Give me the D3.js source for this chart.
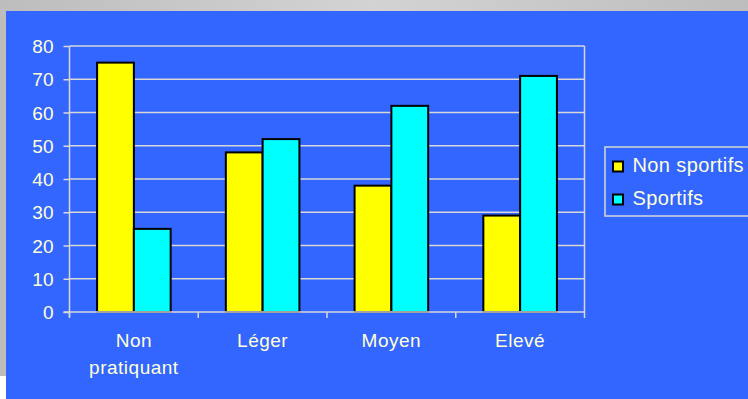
<!DOCTYPE html>
<html>
<head>
<meta charset="utf-8">
<script src="https://cdn.jsdelivr.net/npm/d3@7"></script>
<style>
  html, body { margin: 0; padding: 0; background: #fff; }
  svg { display: block; }
  text { font-family: 'Liberation Sans', Arial, sans-serif; fill: #ffffd8; }
</style>
</head>
<body>
<div class="canvas"></div>
<script>
const categories = [['Non', 'pratiquant'], ['Léger'], ['Moyen'], ['Elevé']];
const seriesNames = ['Non sportifs', 'Sportifs'];
const nonSportifs = [75, 48, 38, 29];
const sportifs = [25, 52, 62, 71];
const yTicks = [0, 10, 20, 30, 40, 50, 60, 70, 80];

const width = 748;
const height = 399;
const plot = { left: 69.5, right: 584.5, top: 46, bottom: 312 };
const colors = ['#ffff00', '#00ffff'];
const gridColor = '#d8d8d8';

const data = categories.map((c, i) => ({
  label: c,
  values: [nonSportifs[i], sportifs[i]]
}));

const svg = d3
  .select('.canvas')
  .append('svg')
  .attr('width', width)
  .attr('height', height);

// slide background
const grad = svg.append('defs').append('linearGradient').attr('id', 'grey');
grad.append('stop').attr('offset', '0%').attr('stop-color', '#bdbdbd');
grad.append('stop').attr('offset', '50%').attr('stop-color', '#d3d3d3');
grad.append('stop').attr('offset', '100%').attr('stop-color', '#bdbdbd');

svg.append('rect').attr('width', width).attr('height', 376).attr('fill', 'url(#grey)');
svg.append('rect').attr('x', 6).attr('y', 11).attr('width', width - 6).attr('height', height - 11).attr('fill', '#3366ff');

const x = d3
  .scaleBand()
  .domain(d3.range(categories.length))
  .range([plot.left, plot.right]);

const x1 = d3
  .scaleBand()
  .domain(d3.range(seriesNames.length))
  .range([0, x.bandwidth()])
  .paddingOuter(0.75)
  .paddingInner(0);

const y = d3
  .scaleLinear()
  .domain([0, 80])
  .range([plot.bottom, plot.top]);

// gridlines + plot border
svg
  .append('g')
  .selectAll('line')
  .data(yTicks.filter(t => t > 0))
  .join('line')
  .attr('x1', plot.left)
  .attr('x2', plot.right)
  .attr('y1', d => y(d))
  .attr('y2', d => y(d))
  .attr('stroke', gridColor)
  .attr('stroke-width', 1.5);

svg
  .append('line')
  .attr('x1', plot.right)
  .attr('x2', plot.right)
  .attr('y1', plot.top)
  .attr('y2', plot.bottom)
  .attr('stroke', gridColor)
  .attr('stroke-width', 1.5);

// bars
const groups = svg
  .append('g')
  .selectAll('g')
  .data(data)
  .join('g')
  .attr('transform', (d, i) => `translate(${x(i)},0)`);

groups
  .selectAll('rect')
  .data(d => d.values)
  .join('rect')
  .attr('x', (d, j) => x1(j))
  .attr('y', d => y(d))
  .attr('width', x1.bandwidth())
  .attr('height', d => y(0) - y(d))
  .attr('fill', (d, j) => colors[j])
  .attr('stroke', '#000')
  .attr('stroke-width', 2);

// y axis
const yAxis = svg
  .append('g')
  .attr('transform', `translate(${plot.left},0)`)
  .call(d3.axisLeft(y).tickValues(yTicks).tickSize(6).tickPadding(10).tickFormat(d3.format('d')));

yAxis.select('.domain').attr('stroke', gridColor).attr('stroke-width', 1.5).attr('d', `M0,${plot.top}V${plot.bottom + 5}`);
yAxis.selectAll('.tick line').attr('stroke', gridColor).attr('stroke-width', 1.5);
yAxis
  .selectAll('.tick text')
  .attr('fill', '#ffffd8')
  .attr('font-size', 19)
  .attr('font-family', "'Liberation Sans', Arial, sans-serif")
  .attr('dy', '0.35em');

// x axis
const xAxis = svg.append('g');
xAxis
  .append('line')
  .attr('x1', plot.left - 6)
  .attr('x2', plot.right)
  .attr('y1', plot.bottom)
  .attr('y2', plot.bottom)
  .attr('stroke', gridColor)
  .attr('stroke-width', 1.5);

xAxis
  .selectAll('.tick')
  .data(d3.range(categories.length + 1))
  .join('line')
  .attr('x1', i => plot.left + i * x.step())
  .attr('x2', i => plot.left + i * x.step())
  .attr('y1', plot.bottom)
  .attr('y2', plot.bottom + 6)
  .attr('stroke', gridColor)
  .attr('stroke-width', 1.5);

xAxis
  .selectAll('text')
  .data(data)
  .join('text')
  .attr('text-anchor', 'middle')
  .attr('font-size', 19)
  .attr('letter-spacing', 0.5)
  .attr('x', (d, i) => x(i) + x.bandwidth() / 2)
  .attr('y', 346.5)
  .selectAll('tspan')
  .data(d => d.label)
  .join('tspan')
  .attr('x', function () { return d3.select(this.parentNode).attr('x'); })
  .attr('dy', (d, k) => (k === 0 ? 0 : 27))
  .text(d => d);

// legend
const legend = svg.append('g').attr('transform', 'translate(605,147)');
legend
  .append('rect')
  .attr('width', 150)
  .attr('height', 69)
  .attr('fill', 'none')
  .attr('stroke', gridColor)
  .attr('stroke-width', 1.5);

const items = legend
  .selectAll('g')
  .data(seriesNames)
  .join('g')
  .attr('transform', (d, i) => `translate(0,${i * 33})`);

items
  .append('rect')
  .attr('x', 8)
  .attr('y', 14.5)
  .attr('width', 10)
  .attr('height', 10)
  .attr('fill', (d, i) => colors[i])
  .attr('stroke', '#000')
  .attr('stroke-width', 2);

items
  .append('text')
  .attr('x', 27.5)
  .attr('y', 25)
  .attr('font-size', 20)
  .attr('letter-spacing', 0.4)
  .text(d => d);
</script>
</body>
</html>
